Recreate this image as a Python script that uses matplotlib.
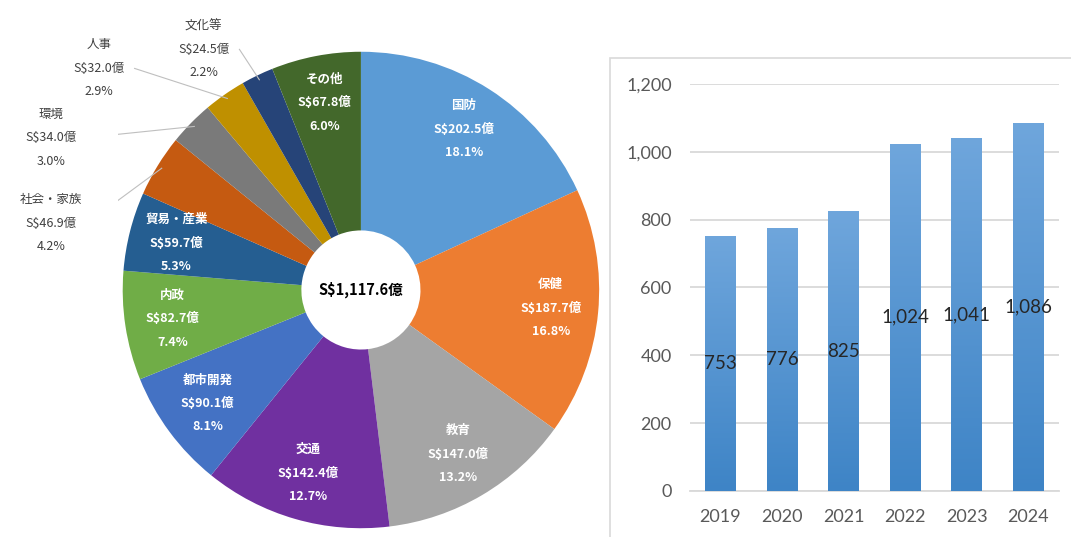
import numpy as np
import matplotlib.pyplot as plt
from matplotlib.patches import Rectangle
from matplotlib.colors import LinearSegmentedColormap

plt.rcParams['font.family'] = ['Noto Sans CJK JP', 'DejaVu Sans']

# ---- data: budget by ministry (S$ 億) ----
categories = ['国防', '保健', '教育', '交通', '都市開発', '内政', '貿易・産業',
              '社会・家族', '環境', '人事', '文化等', 'その他']
amounts = [202.5, 187.7, 147.0, 142.4, 90.1, 82.7, 59.7, 46.9, 34.0, 32.0, 24.5, 67.8]
shares = [18.1, 16.8, 13.2, 12.7, 8.1, 7.4, 5.3, 4.2, 3.0, 2.9, 2.2, 6.0]
total_label = 'S$1,117.6億'

# ---- data: total expenditure by year ----
years = ['2019', '2020', '2021', '2022', '2023', '2024']
totals = [753, 776, 825, 1024, 1041, 1086]

colors = ['#5B9BD5', '#ED7D31', '#A5A5A5', '#7030A0', '#4472C4', '#70AD47',
          '#255E91', '#C55A11', '#7A7A7A', '#BF9000', '#264478', '#43682B']

# slices labelled outside, with where their text sits (data coords)
outside = {
    '社会・家族': (-1.30, 0.28),
    '環境': (-1.30, 0.64),
    '人事': (-1.10, 0.93),
    '文化等': (-0.66, 1.01),
}

fig = plt.figure(figsize=(10.71, 5.37), dpi=100)

# ---------------- donut ----------------
ax = fig.add_axes([0.110, 0.0075, 0.454, 0.905])
wedges, _ = ax.pie(amounts, colors=colors, startangle=90, counterclock=False,
                   radius=1.0, wedgeprops=dict(width=0.75, edgecolor='none'))
ax.set_aspect('equal')
ax.set_xlim(-1.02, 1.02)
ax.set_ylim(-1.02, 1.02)

for w, name, amt, pct in zip(wedges, categories, amounts, shares):
    txt = f'{name}\nS${amt:.1f}億\n{pct:.1f}%'
    mid = np.deg2rad((w.theta1 + w.theta2) / 2)
    if name in outside:
        tx, ty = outside[name]
        ax.text(tx, ty, txt, ha='center', va='center', fontsize=9,
                color='#404040', linespacing=2.05)
        ex, ey = 0.98 * np.cos(mid), 0.98 * np.sin(mid)
        ax.plot([tx + 0.15, ex], [ty + 0.0, ey], color='#BFBFBF', lw=0.8)
    else:
        r = 0.8
        ax.text(r * np.cos(mid), r * np.sin(mid), txt, ha='center', va='center',
                fontsize=9, color='white', fontweight='bold', linespacing=2.05)

ax.text(0, 0, total_label, ha='center', va='center', fontsize=10.5,
        fontweight='bold', color='black')

# ---------------- bars ----------------
fig.add_artist(Rectangle((610 / 1071, -0.01), 0.5, (537 - 58) / 537 + 0.01,
                         transform=fig.transFigure, fill=False,
                         edgecolor='#D9D9D9', lw=1.2))

bx = fig.add_axes([0.644, 0.0857, 0.345, 0.758])
x = np.arange(len(years))
bars = bx.bar(x, totals, width=0.5, color='#5B9BD5', zorder=2)
grad = np.linspace(0, 1, 256).reshape(-1, 1)
cmap = LinearSegmentedColormap.from_list('g', ['#3E84C6', '#6FA6DC'])
for b in bars:
    x0, w, h = b.get_x(), b.get_width(), b.get_height()
    im = bx.imshow(grad, extent=[x0, x0 + w, 0, h], origin='lower',
                   cmap=cmap, aspect='auto', zorder=3)
    im.set_clip_path(b)
    bx.text(x0 + w / 2, h / 2, f'{h:,}', ha='center', va='center',
            fontsize=13.5, color='#262626', family='Lato', zorder=4)

bx.set_xlim(-0.5, len(years) - 0.5)
bx.set_ylim(0, 1200)
bx.set_yticks(range(0, 1201, 200))
bx.set_yticklabels([f'{v:,}' for v in range(0, 1201, 200)])
bx.set_xticks(x)
bx.set_xticklabels(years)
for lab in bx.get_xticklabels() + bx.get_yticklabels():
    lab.set_family('Lato')
    lab.set_fontsize(13)
    lab.set_color('#595959')
bx.yaxis.grid(True, color='#D9D9D9', lw=1.3, zorder=0)
bx.set_axisbelow(True)
for s in ['top', 'right', 'left']:
    bx.spines[s].set_visible(False)
bx.spines['bottom'].set_color('#D9D9D9')
bx.spines['bottom'].set_linewidth(1.3)
bx.tick_params(axis='x', length=0, pad=13)
bx.tick_params(axis='y', length=0, pad=13)

fig.savefig('out.png', dpi=100)
